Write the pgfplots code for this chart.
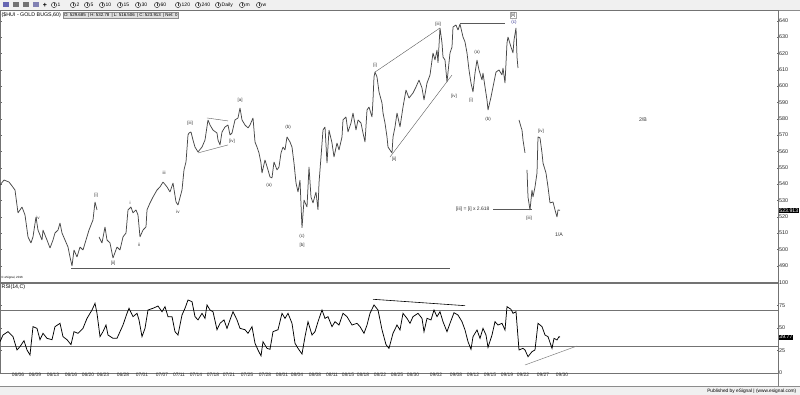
\documentclass[border=0pt]{standalone}
\usepackage{pgfplots}
\pgfplotsset{compat=1.18}
\usepackage{fontspec}
\setmainfont{Liberation Sans}
\tikzset{lbl/.style={font=\fontsize{4.5}{5}\selectfont, text=black!80, inner sep=0.3pt}}
\begin{document}
\begin{tikzpicture}[x=1pt,y=1pt]
\path[use as bounding box] (0,0) rectangle (800,395);
% toolbar
\fill[black!6] (0,385) rectangle (800,395);
\draw[black!45] (0,385) -- (800,385);
\foreach \xx/\cc in {3/blue!50!black!60,13/black!55,23/black!55,33/blue!40!black!50}{\fill[\cc] (\xx,387.5) rectangle ++(6,5);}
\node[font=\fontsize{7}{7}\selectfont\bfseries,inner sep=0] at (45,390) {+};
\foreach \xx/\lab in {54/1,73/2,87/5,102/10,120/15,138/30,157/60,178/120,198/240,218/Daily,242/m,259/w}{
  \draw[black!75,line width=0.5pt] (\xx,390) circle (2.6);
  \draw[black!75,line width=0.4pt] (\xx,390) -- ++(0,1.8) (\xx,390) -- ++(1.3,0);
  \node[anchor=west,inner sep=0.5pt,font=\fontsize{5}{5}\selectfont] at (\xx+3,390) {\lab};
}
% bottom bar
\fill[black!6] (0,0) rectangle (800,8.5);
\draw[black!45] (0,8.5) -- (800,8.5);
\node[anchor=east,inner sep=0.5pt,font=\fontsize{4.8}{5}\selectfont] at (797,4.2) {Published by eSignal \textbar\ (www.esignal.com)};
\draw[black!50] (778,8.5) -- (778,385);

\begin{axis}[
  at={(0pt,113pt)}, anchor=south west, width=778pt, height=272pt, scale only axis,
  xmin=0, xmax=778, ymin=480, ymax=646.5,
  axis line style={black!55, line width=0.5pt},
  xtick=\empty,
  ytick={490,500,...,640},
  yticklabel pos=right,
  y tick label style={font=\fontsize{5.4}{6}\selectfont, /pgf/number format/assume math mode=true, inner sep=0.8pt, text=black!85},
  major tick length=1.5pt,
  tick style={black!60},
  clip=false,
  unbounded coords=jump,
]
\addplot[black!72, line width=0.75pt, line join=bevel] coordinates {
(0,539.4)(4,542.4)(9,541.2)(12,538.8)(15,536.3)(18,522.3)(22,525.9)(25,521.0)(28,507.6)(31,503.9)(33,507.6)(36,519.8)(38,511.8)(42,505.7)(43,511.8)(47,505.7)(50,500.8)(53,505.7)(55,510.0)(58,511.8)(60,516.1)(62,510.0)(65,505.7)(68,501.4)(70,495.3)(72,489.8)(74,499.6)(77,495.3)(80,501.4)(83,499.6)(86,505.7)(89,511.8)(93,518.0)(95,529.0)(97,524.1)(98,nan)(99,507.6)(102,503.9)(105,513.7)(107,505.7)(110,503.9)(113,494.7)(117,501.4)(120,499.6)(123,507.6)(126,510.0)(128,524.1)(131,525.9)(133,522.3)(136,524.1)(138,521.0)(140,507.6)(143,511.8)(146,513.7)(147,524.1)(150,528.4)(153,532.0)(157,536.3)(160,538.2)(163,541.2)(167,538.2)(170,535.1)(173,540.6)(176,529.0)(178,527.1)(182,536.3)(184,548.6)(186,553.5)(188,570.0)(189,571.2)(191,571.8)(193,566.9)(195,562.6)(198,559.6)(202,562.6)(205,566.9)(208,579.2)(210,576.1)(213,573.0)(217,571.2)(218,566.9)(220,563.9)(222,571.8)(225,574.9)(228,576.1)(230,570.0)(232,571.2)(235,579.2)(238,580.4)(240,586.5)(242,579.2)(245,576.1)(248,574.3)(250,576.1)(253,580.4)(255,565.7)(257,562.6)(259,559.0)(261,552.8)(262,546.7)(265,554.7)(268,548.6)(270,544.3)(272,543.7)(274,553.5)(277,548.6)(279,550.4)(281,559.0)(283,562.6)(285,560.8)(287,568.8)(290,565.7)(292,562.6)(294,552.8)(296,540.6)(298,535.1)(300,542.4)(302,513.1)(304,530.2)(307,525.9)(309,550.4)(311,532.0)(313,528.4)(316,535.1)(318,524.1)(319,540.6)(321,556.5)(323,573.0)(325,574.9)(327,552.8)(329,573.0)(332,565.1)(334,556.5)(337,565.1)(339,560.8)(342,568.8)(343,579.2)(346,581.0)(348,571.8)(351,577.3)(353,583.5)(356,573.0)(358,579.2)(361,577.3)(363,571.2)(365,565.7)(367,585.3)(369,587.1)(372,581.0)(373,591.4)(374,605.5)(375,608.5)(377,605.5)(379,596.3)(382,589.6)(383,583.5)(385,577.3)(387,568.8)(388,562.6)(390,560.8)(392,559.0)(393,568.8)(395,574.9)(397,583.5)(400,574.9)(403,587.1)(406,597.5)(409,592.6)(413,595.7)(416,599.4)(419,603.6)(422,598.8)(424,591.4)(427,601.8)(430,606.7)(433,620.2)(435,615.9)(437,622.0)(438,614.1)(440,635.5)(442,626.3)(443,617.7)(445,615.9)(447,602.4)(450,620.2)(452,623.8)(453,636.1)(456,637.3)(458,634.2)(460,637.9)(463,630.0)(465,626.9)(467,620.2)(469,609.8)(471,601.8)(473,596.3)(475,607.9)(477,615.9)(479,609.8)(482,603.6)(483,607.9)(485,599.4)(487,591.4)(488,585.3)(491,593.2)(493,599.4)(496,608.5)(499,609.8)(502,606.7)(503,611.0)(505,601.8)(507,626.3)(508,630.0)(511,623.8)(513,620.2)(514,628.1)(516,635.5)(517,617.7)(518,611.0)(518.5,nan)(519,579.2)(521,574.9)(522,573.0)(523,566.9)(525,559.0)(526,nan)(527,548.6)(528,532.0)(530,524.1)(532,536.3)(533,532.0)(535,538.2)(537,546.7)(538,568.8)(540,568.2)(542,559.0)(543,552.8)(546,546.7)(548,538.2)(550,528.4)(553,529.0)(555,524.1)(557,519.8)(558,524.1)(560,523.9)
};
\addplot[black!65, line width=0.5pt] coordinates {(71,488.6)(450,488.6)};
\addplot[black!65, line width=0.4pt] coordinates {(207,580.4)(228,578.6)};
\addplot[black!65, line width=0.4pt] coordinates {(198,559.0)(228,563.9)};
\addplot[black!65, line width=0.4pt] coordinates {(375,608.5)(440,635.5)};
\addplot[black!65, line width=0.4pt] coordinates {(390,556.5)(452,606.7)};
\addplot[black!65, line width=0.5pt] coordinates {(460,638.5)(505,638.5)};
\addplot[black!65, line width=0.5pt] coordinates {(493,524.7)(532,524.7)};
% wave labels
\node[lbl] at (axis cs:38,519.2) {iv};
\node[lbl] at (axis cs:96,532.8) {[i]};
\node[lbl] at (axis cs:113,491.4) {[ii]};
\node[lbl] at (axis cs:130,528.6) {i};
\node[lbl] at (axis cs:139,502.7) {ii};
\node[lbl] at (axis cs:164,546.5) {iii};
\node[lbl] at (axis cs:178,523.0) {iv};
\node[lbl] at (axis cs:190,577.1) {[iii]};
\node[lbl] at (axis cs:232,565.9) {[iv]};
\node[lbl] at (axis cs:240,591.4) {[a]};
\node[lbl] at (axis cs:269,539.4) {(a)};
\node[lbl] at (axis cs:288,574.7) {(b)};
\node[lbl] at (axis cs:302,507.7) {(c)};
\node[lbl] at (axis cs:302,502.7) {[b]};
\node[lbl] at (axis cs:375,612.8) {[i]};
\node[lbl] at (axis cs:394,555.3) {[ii]};
\node[lbl] at (axis cs:438,637.9) {[iii]};
\node[lbl] at (axis cs:454,593.9) {[iv]};
\node[lbl] at (axis cs:471,591.0) {[i]};
\node[lbl] at (axis cs:477,620.6) {(a)};
\node[lbl] at (axis cs:488,579.8) {(b)};
\node[lbl, text=blue!45!black!80] at (axis cs:514,638.7) {(c)};
\node[lbl, draw=black!35, inner sep=0.6pt] at (axis cs:513,643.4) {[ii]};
\node[lbl] at (axis cs:529,519.0) {[iii]};
\node[lbl] at (axis cs:541,572.0) {[iv]};
\node[lbl, font=\fontsize{5}{5}\selectfont, anchor=east] at (axis cs:490,524.6) {[iii] = [i] x 2.618};
\node[font=\fontsize{5.2}{5}\selectfont, text=black!80, inner sep=0.3pt] at (axis cs:559,508.8) {1/A};
\node[font=\fontsize{5.2}{5}\selectfont, text=black!80, inner sep=0.3pt] at (axis cs:643,579.1) {2/B};
\node[fill=black, text=white, anchor=west, inner sep=0.7pt, font=\fontsize{5.2}{5}\selectfont] at (axis cs:778.5,523.913) {523.913};
\end{axis}
% title row
\node[anchor=west, inner sep=0.5pt, font=\fontsize{5.3}{6}\selectfont] at (1,379.5) {(\$HUI - GOLD BUGS,60)};
\node[anchor=west, draw=black!45, fill=black!12, inner sep=0.8pt, font=\fontsize{4.4}{4.8}\selectfont] at (63,379.5) {O: 529.685\enspace\textbar\ H: 532.78\enspace\textbar\ L: 516.506\enspace\textbar\ C: 523.913\enspace\textbar\ Net: 0};
\node[anchor=west, inner sep=0.3pt, font=\fontsize{3}{3.5}\selectfont] at (1,117) {\textcopyright\ eSignal, 2016};

\begin{axis}[
  at={(0pt,22pt)}, anchor=south west, width=778pt, height=90pt, scale only axis,
  xmin=0, xmax=778, ymin=0, ymax=100,
  axis line style={black!55, line width=0.5pt},
  xtick={18,35,53,71,88,103,123,142,162,179,196,213,229,247,265,282,297,315,332,348,363,380,397,413,436,456,473,490,507,523,543,562},
  xticklabels={06/06,06/09,06/13,06/16,06/20,06/23,06/28,07/01,07/07,07/11,07/14,07/18,07/21,07/25,07/28,08/01,08/04,08/08,08/11,08/15,08/18,08/22,08/25,08/30,09/02,09/08,09/12,09/15,09/19,09/22,09/27,09/30},
  x tick label style={font=\fontsize{4.9}{5}\selectfont, text=black!85, inner sep=0.5pt, yshift=0.5pt},
  xtick style={draw=none},
  ytick={0,25,50,75,100},
  yticklabel pos=right,
  y tick label style={font=\fontsize{5.4}{6}\selectfont, /pgf/number format/assume math mode=true, inner sep=0.8pt, text=black!85},
  major tick length=1.5pt,
  tick style={black!60},
  clip=false,
]
\addplot[black!55, line width=0.5pt] coordinates {(0,70)(778,70)};
\addplot[black!55, line width=0.5pt] coordinates {(0,30)(778,30)};
\addplot[black, line width=0.75pt] coordinates {
(0,34.8)(3,42.2)(8,45.9)(13,40.4)(17,25.6)(20,29.3)(24,35.9)(27,25.6)(30,20.0)(33,51.5)(37,49.6)(40,37.0)(43,44.1)(47,38.5)(52,37.0)(55,51.5)(60,55.2)(63,40.4)(67,37.0)(71,31.5)(74,45.9)(78,44.1)(83,49.6)(87,60.7)(92,70.0)(95,77.4)(97,66.3)(100,40.4)(103,45.9)(106,53.3)(108,42.2)(113,38.5)(117,38.5)(120,45.9)(123,53.3)(127,66.3)(129,71.9)(133,62.6)(137,66.3)(139,59.0)(142,40.4)(145,49.6)(148,70.0)(153,71.9)(158,74.4)(162,68.1)(165,73.7)(168,62.6)(172,62.6)(175,45.9)(178,42.2)(182,64.4)(185,71.9)(188,81.1)(192,79.3)(195,62.6)(198,59.0)(202,66.3)(205,60.7)(207,75.6)(210,70.0)(213,68.1)(217,48.1)(220,55.2)(224,59.0)(227,49.6)(230,59.0)(233,68.1)(237,59.0)(240,49.6)(245,48.1)(248,44.1)(252,51.5)(255,33.0)(258,25.6)(261,19.0)(263,34.8)(267,27.4)(270,26.3)(273,45.9)(278,48.1)(282,66.3)(285,60.7)(288,66.3)(292,55.2)(295,33.0)(298,27.4)(302,21.1)(305,40.4)(308,57.0)(312,42.2)(315,45.9)(318,57.0)(322,70.0)(325,60.7)(328,62.6)(332,51.5)(335,57.0)(339,53.3)(343,66.3)(347,62.6)(352,53.3)(357,55.2)(360,51.5)(364,44.1)(367,53.3)(370,66.3)(374,75.6)(378,70.0)(382,48.1)(386,31.5)(389,27.4)(393,44.1)(397,53.3)(400,47.8)(403,66.3)(407,60.7)(410,55.2)(413,62.6)(418,66.3)(422,60.7)(424,45.9)(427,60.7)(431,59.0)(434,70.0)(437,62.6)(440,68.1)(443,57.0)(447,45.9)(450,55.2)(454,67.0)(458,64.4)(462,57.0)(465,47.8)(468,34.8)(471,26.3)(473,40.4)(477,47.8)(480,38.5)(483,49.6)(486,42.2)(488,28.5)(492,42.2)(495,57.0)(498,53.3)(502,55.2)(505,47.8)(507,73.7)(511,70.7)(513,66.3)(516,68.1)(519,25.6)(523,27.4)(525,25.6)(528,18.1)(532,23.7)(535,25.6)(538,55.2)(542,51.5)(545,42.2)(548,40.4)(552,27.4)(554,38.5)(557,36.7)(559,40.4)(560,39.8)
};
\addplot[black, line width=0.6pt] coordinates {(373,81.9)(465,74.8)};
\addplot[black!50, line width=0.5pt] coordinates {(525,8.9)(577,30)};
\node[fill=black, text=white, anchor=west, inner sep=0.7pt, font=\fontsize{5.2}{5}\selectfont] at (axis cs:778.5,39.77) {39.77};
\end{axis}
\node[anchor=west, inner sep=0.5pt, font=\fontsize{5.3}{6}\selectfont] at (1,107.5) {RSI(14,C)};
\end{tikzpicture}
\end{document}
